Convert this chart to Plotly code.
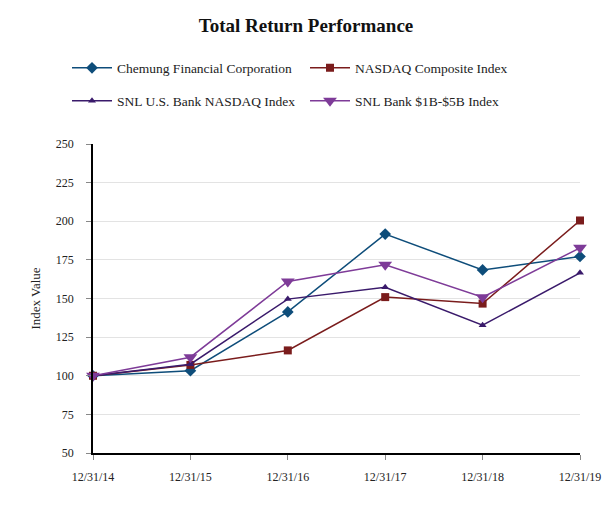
import plotly.graph_objects as go

dates = ["12/31/14", "12/31/15", "12/31/16", "12/31/17", "12/31/18", "12/31/19"]
chemung = [100, 103.3, 141.3, 191.7, 168.5, 177.2]
nasdaq = [100, 107.0, 116.4, 150.9, 146.7, 200.5]
snl_us_bank = [100, 107.5, 149.6, 157.3, 132.7, 166.6]
snl_1b_5b = [100, 112.0, 161.0, 171.8, 150.8, 182.8]

series = [
    ("Chemung Financial Corporation", chemung, "#0e4d7a", "diamond", 9, "legend"),
    ("NASDAQ Composite Index", nasdaq, "#7a1c1c", "square", 8, "legend"),
    ("SNL U.S. Bank NASDAQ Index", snl_us_bank, "#3a1a6b", "triangle-up", 7, "legend2"),
    ("SNL Bank $1B-$5B Index", snl_1b_5b, "#7e3b98", "triangle-down", 12, "legend2"),
]

fig = go.Figure()
for name, vals, color, sym, size, leg in series:
    fig.add_trace(go.Scatter(
        x=dates, y=vals, name=name, mode="lines+markers",
        line=dict(color=color, width=1.5),
        marker=dict(symbol=sym, size=size, color=color),
        legend=leg, cliponaxis=False,
    ))

# page body has an 8px margin; figure is sized/positioned to compensate
W, H, OFF = 605, 500, 8
font = "Liberation Serif, Times New Roman, serif"
legend_common = dict(
    orientation="h", xref="container", yref="container",
    xanchor="left", yanchor="middle", x=(67 - OFF) / W,
    font=dict(family=font, size=13.5, color="#222"),
    entrywidth=183, itemwidth=40, bgcolor="rgba(0,0,0,0)",
)

fig.update_layout(
    width=W, height=H,
    margin=dict(l=93 - OFF, r=OFF + W - 580, t=144 - OFF, b=OFF + H - 453),
    paper_bgcolor="white", plot_bgcolor="white",
    font=dict(family=font, size=12, color="#222"),
    title=dict(text="<b>Total Return Performance</b>", x=(306 - OFF) / W, xanchor="center",
               xref="container", y=1 - (25 - OFF) / H, yref="container", yanchor="middle",
               font=dict(family=font, size=19, color="#111")),
    legend=dict(**legend_common, y=1 - (68 - OFF) / H),
    legend2=dict(**legend_common, y=1 - (101 - OFF) / H),
    xaxis=dict(type="category", range=[0, 5], showgrid=False,
               showline=True, linecolor="black", linewidth=1.5,
               ticks="outside", ticklen=5, tickcolor="#888",
               ticklabelstandoff=7, tickfont=dict(family=font, size=12)),
    yaxis=dict(range=[50, 250], dtick=25, tick0=50, showgrid=True,
               gridcolor="#e3e3e3", gridwidth=1, zeroline=False,
               showline=True, linecolor="black", linewidth=1.5,
               ticks="outside", ticklen=5, tickcolor="#888",
               ticklabelstandoff=10,
               title=dict(text="Index Value", font=dict(family=font, size=13), standoff=12),
               tickfont=dict(family=font, size=12)),
)

fig.write_html("out.html")
